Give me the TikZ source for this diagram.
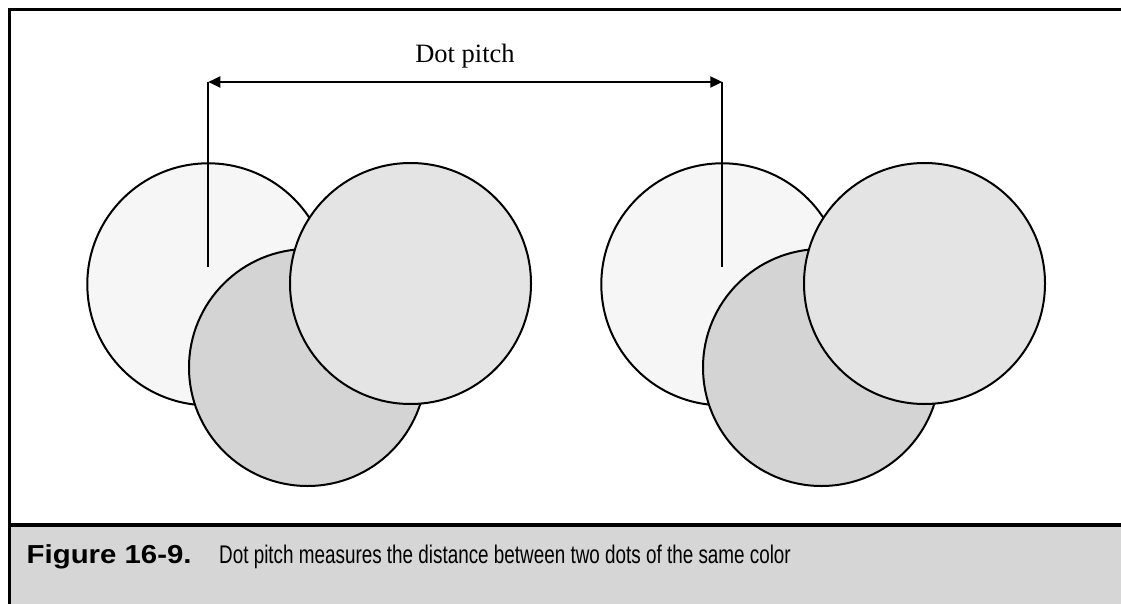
\documentclass[tikz,border=0pt]{standalone}
\usepackage{fontspec}
\newfontfamily\capbold[FakeStretch=1.13]{Liberation Sans Bold}
\newfontfamily\capnarrow[FakeStretch=0.74]{Liberation Sans}
\newfontfamily\labelserif{Liberation Serif}
\usetikzlibrary{arrows.meta}
\definecolor{dotA}{HTML}{F6F6F6}
\definecolor{dotB}{HTML}{E4E4E4}
\definecolor{dotC}{HTML}{D4D4D4}
\definecolor{capgray}{HTML}{D6D6D6}
\tikzset{
  dot/.style={circle, draw=black, line width=2pt, inner sep=0pt},
  border/.style={line width=3pt, draw=black},
  measure/.style={line width=2pt, draw=black},
}
\begin{document}
\begin{tikzpicture}[x=1pt,y=-1pt]
\useasboundingbox (0,0) rectangle (1121,604);
% caption band
\fill[capgray] (9,526) rectangle (1121,604);
% frame
\draw[border] (9,604) -- (9,9.5) -- (1121,9.5);
\draw[line width=4pt] (8,524.5) -- (1121,524.5);
% left group of dots
\node[dot, fill=dotA, minimum size=242pt] (a1) at (208.3,284.3) {};
\node[dot, fill=dotC, minimum size=237pt] (c1) at (307.5,367.5) {};
\node[dot, fill=dotB, minimum size=241pt] (b1) at (410.5,283.5) {};
% right group of dots
\node[dot, fill=dotA, minimum size=242pt] (a2) at (722.3,284.3) {};
\node[dot, fill=dotC, minimum size=237pt] (c2) at (821.5,367.5) {};
\node[dot, fill=dotB, minimum size=241pt] (b2) at (924.5,283.5) {};
% measurement
\coordinate (top1) at (208.3,82);
\coordinate (top2) at (722.3,82);
\coordinate (low1) at (208.3,267);
\coordinate (low2) at (722.3,267);
\draw[measure] (low1) -- (top1);
\draw[measure] (low2) -- (top2);
\draw[measure, {Triangle[length=12pt,width=11pt]}-{Triangle[length=12pt,width=11pt]}] (top1) -- (top2);
\node[anchor=base, inner sep=0pt, font=\labelserif\fontsize{26.5}{30}\selectfont] (lbl) at (465,63) {Dot pitch};
% caption
\node[anchor=base west, inner sep=0pt, font=\capbold\fontsize{26}{30}\selectfont] (fig) at (26.5,563) {Figure 16-9.};
\node[anchor=base west, inner sep=0pt, font=\capnarrow\fontsize{25.5}{30}\selectfont] (cap) at (219,563) {Dot pitch measures the distance between two dots of the same color};
\end{tikzpicture}
\end{document}
